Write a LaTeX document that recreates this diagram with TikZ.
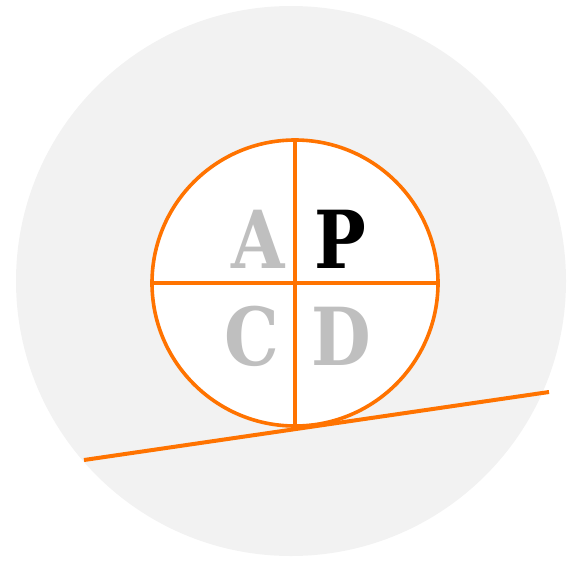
\documentclass[tikz,border=0pt]{standalone}
\usepackage{fontspec}
\usepackage{tikz}
\usetikzlibrary{positioning}
\newfontfamily\slabfont[FakeStretch=0.86]{DejaVu Serif}

\definecolor{apcdorange}{HTML}{FF7300}
\definecolor{apcdback}{HTML}{F2F2F2}
\definecolor{apcdgray}{HTML}{BFBFBF}

\begin{document}
\begin{tikzpicture}[
  x=1pt, y=-1pt,
  letter/.style={inner sep=0pt, font=\slabfont\bfseries\fontsize{80}{80}\selectfont},
  ring/.style={draw=apcdorange, line width=3.6pt},
  ground/.style={draw=apcdorange, line width=4pt}
]
\useasboundingbox (0,0) rectangle (567,560);
\fill[apcdback] (291,281) circle[radius=275];
\coordinate (mid) at (295,283);
\fill[white] (mid) circle[radius=143];
\coordinate (top) at (295,140);
\coordinate (bot) at (295,427);
\coordinate (lft) at (152,283);
\coordinate (rgt) at (438,283);
\draw[ring] (lft) -- (rgt);
\draw[ring] (top) -- (bot);
\draw[ring] (mid) circle[radius=143];
\coordinate (gl) at (84,460);
\coordinate (gr) at (549,392);
\draw[ground] (gl) -- (gr);
\node[letter, text=apcdgray, anchor=base east] (a) at (285,268) {A};
\node[letter, text=black, anchor=base west] (p) at (314,268) {P};
\node[letter, text=apcdgray, anchor=base east] (c) at (279,365) {C};
\node[letter, text=apcdgray, anchor=base west] (d) at (311,365) {D};
\end{tikzpicture}
\end{document}
